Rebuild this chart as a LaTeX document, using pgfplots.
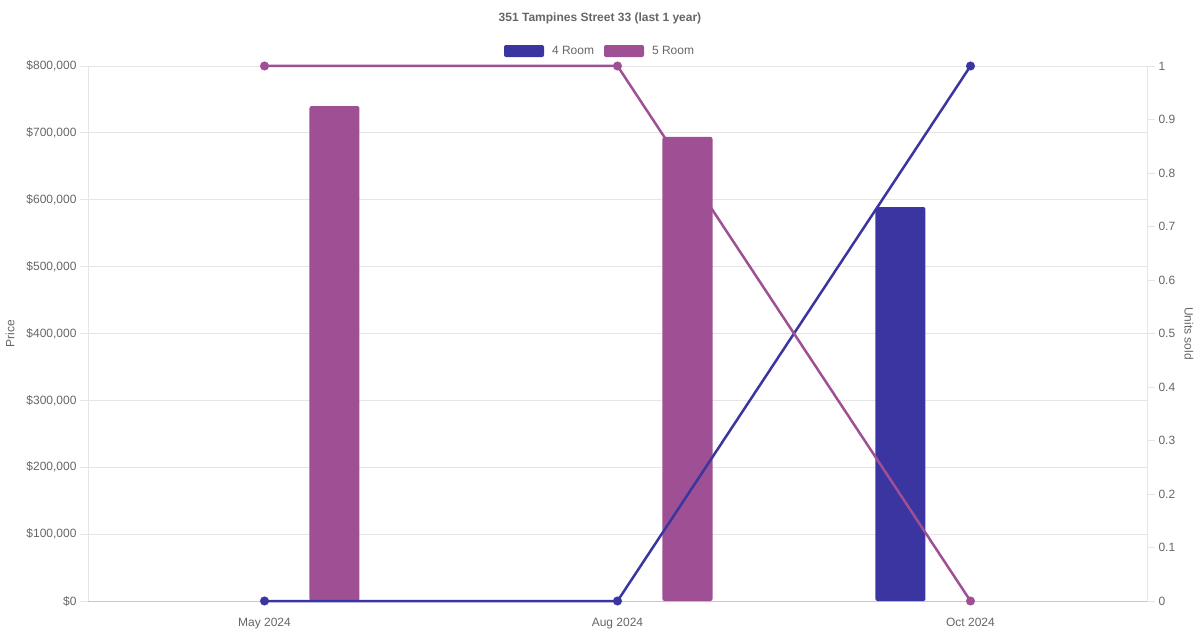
\documentclass[border=0pt]{standalone}
\usepackage{fontspec}
\setmainfont{Liberation Sans}
\usepackage{pgfplots}
\pgfplotsset{compat=1.18}

\definecolor{room4}{HTML}{3A35A0}
\definecolor{room5}{HTML}{9F5094}
\definecolor{txt}{HTML}{666666}
\definecolor{gridc}{HTML}{E5E5E5}
\definecolor{basec}{HTML}{C8C8C8}

\pgfplotsset{
  common/.style={
    at={(0pt,0pt)}, anchor=south west,
    scale only axis, width=1059pt, height=535pt,
    xmin=-0.5, xmax=2.5,
    tick label style={font=\fontsize{12}{14}\selectfont, text=txt},
    label style={font=\fontsize{12}{14}\selectfont, text=txt},
    major tick length=8pt, tick align=outside,
    y tick style={draw=gridc, line width=0.8pt},
    scaled y ticks=false,
  },
}

\begin{document}
\begin{tikzpicture}[x=1pt,y=1pt]
\useasboundingbox (-88,-29) rectangle (1112,601);

\node[font=\fontsize{12}{14}\selectfont\bfseries, text=txt] at (512,583) {351 Tampines Street 33 (last 1 year)};

\begin{axis}[common,
  ybar, bar width=50pt,
  axis x line*=bottom, axis y line*=left,
  x axis line style={draw=basec, line width=0.8pt},
  y axis line style={draw=gridc, line width=0.8pt},
  ymin=0, ymax=800000,
  ytick={0,100000,200000,300000,400000,500000,600000,700000,800000},
  yticklabels={\$0,\$100{,}000,\$200{,}000,\$300{,}000,\$400{,}000,\$500{,}000,\$600{,}000,\$700{,}000,\$800{,}000},
  xtick={0,1,2}, xticklabels={May 2024,Aug 2024,Oct 2024},
  x tick style={draw=none},
  xticklabel style={yshift=-6pt},
  ymajorgrids, grid style={draw=gridc, line width=0.8pt},
  ylabel={Price},
  ylabel style={at={([xshift=-78pt]rel axis cs:0,0.5)}, anchor=center},
  legend columns=2,
  legend style={at={(0.4835,1.028)}, anchor=center, draw=none, fill=none,
    font=\fontsize{12}{14}\selectfont, text=txt,
    /tikz/every even column/.append style={column sep=8pt}},
  legend image code/.code={\path[#1] (0pt,-6pt) rectangle (40pt,6pt); \path (46pt,0pt);},
  clip=false,
]
\addplot[fill=room4, draw=none, bar shift=-70pt, rounded corners=2pt]
  coordinates {(2,589000)};
\addlegendentry{4 Room}
\addplot[fill=room5, draw=none, bar shift=70pt, rounded corners=2pt]
  coordinates {(0,740000) (1,694000)};
\addlegendentry{5 Room}
\end{axis}

\begin{axis}[common,
  axis x line=none, axis y line*=right,
  y axis line style={draw=gridc, line width=0.8pt},
  ymin=0, ymax=1,
  ytick={0,0.1,0.2,0.3,0.4,0.5,0.6,0.7,0.8,0.9,1},
  yticklabels={0,0.1,0.2,0.3,0.4,0.5,0.6,0.7,0.8,0.9,1},
  ylabel={Units sold},
  ylabel style={at={([xshift=42pt]rel axis cs:1,0.5)}, anchor=center, rotate=180},
  clip=false,
]
\addplot[room4, line width=2.5pt, mark=*, mark size=3.2pt]
  coordinates {(0,0) (1,0) (2,1)};
\addplot[room5, line width=2.5pt, mark=*, mark size=3.2pt]
  coordinates {(0,1) (1,1) (2,0)};
\end{axis}
\end{tikzpicture}
\end{document}
